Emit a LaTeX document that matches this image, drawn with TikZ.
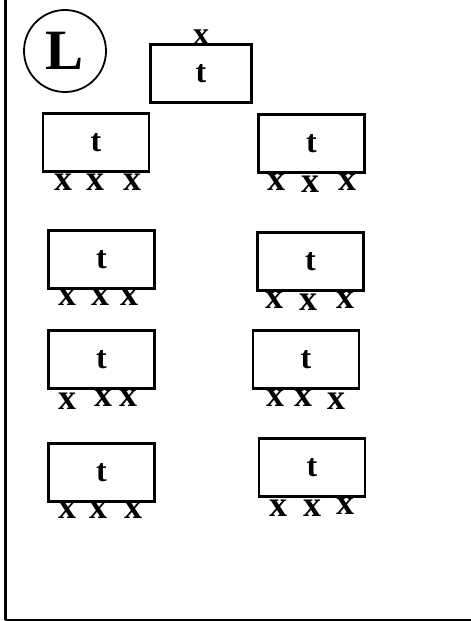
\documentclass[tikz,border=0pt]{standalone}
\usepackage{fontspec}
\setmainfont{Liberation Serif}
\usepackage{tikz}
\usetikzlibrary{positioning}

\tikzset{
  tbox/.style={draw, line width=2.6pt, minimum width=106pt, minimum height=58pt,
    inner sep=0pt, font=\fontsize{32}{32}\selectfont\bfseries},
  xmark/.style={inner sep=0pt, font=\fontsize{36}{36}\selectfont\bfseries}
}

\begin{document}
\begin{tikzpicture}[x=1pt,y=-1pt]
\useasboundingbox (0,0) rectangle (471,621);
% Frame
\draw[line width=3pt] (5,0) -- (5,619.5);
\draw[line width=2pt] (5,619.5) -- (471,619.5);

% Circled letter
\node[draw, circle, line width=1.8pt, minimum size=82pt, inner sep=0pt,
  font=\fontsize{57}{57}\selectfont\bfseries] (lbl) at (65,51) {L};

% Top box
\node[tbox, minimum width=101pt] (top) at (201,73.5) {t};
\node[xmark, font=\fontsize{32}{32}\selectfont\bfseries] (xtop) at (201,37.5) {x};

% Boxes in two columns
\foreach \name/\cx/\cy in {a1/96/142.5, b1/311.5/143.5, a2/101.5/259.5, b2/310.5/261.5,
  a3/101.5/359.5, b3/306/359.5, a4/101.5/472.5, b4/312/467.5} {
  \node[tbox] (\name) at (\cx,\cy) {t};
}

% Marks under the boxes
\foreach \x/\y [count=\i] in {
  63/182, 95/182, 132/182, 276/182, 310/184, 347/182,
  67/297.5, 100/297.5, 129/297.5, 274/300, 308/302, 345/300,
  67/401, 103/398.5, 128/398.5, 275/398, 303/398, 336/401.5,
  67/510, 98/510, 133/510, 278/508, 312/508, 345/506} {
  \node[xmark] (x\i) at (\x,\y) {x};
}
\end{tikzpicture}
\end{document}
